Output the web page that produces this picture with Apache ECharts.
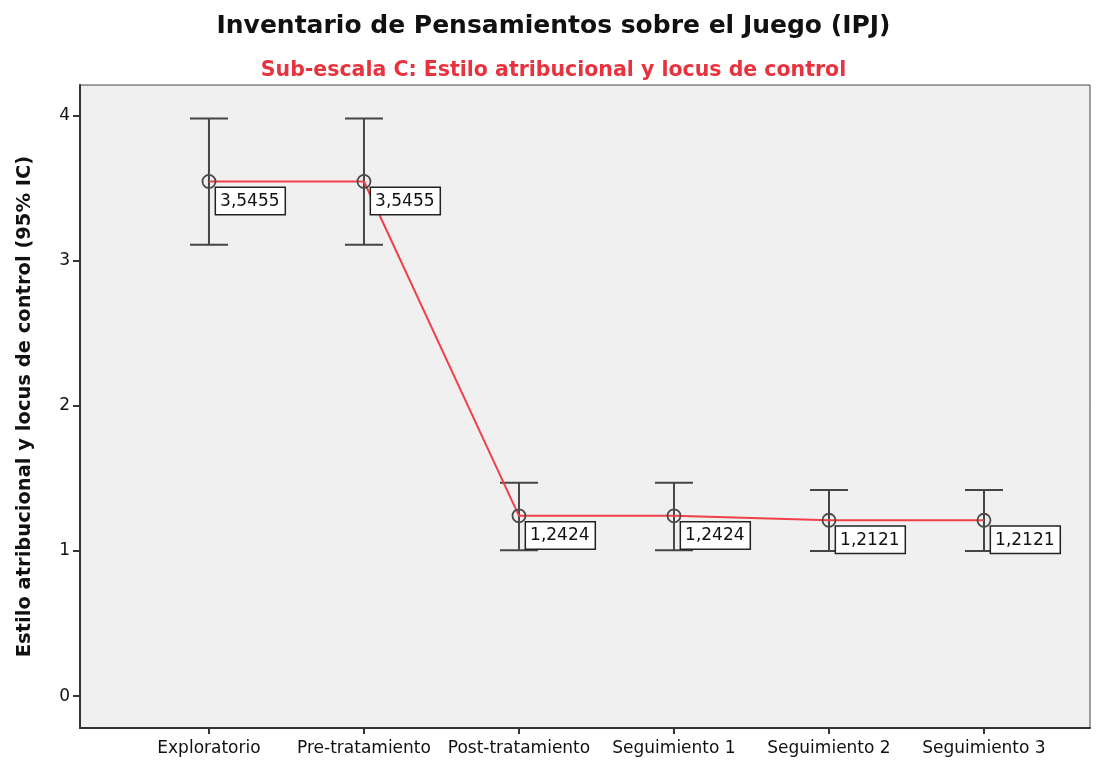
<!DOCTYPE html>
<html>
<head>
<meta charset="utf-8">
<script src="https://cdn.jsdelivr.net/npm/echarts@6/dist/echarts.min.js"></script>
<style>
  html, body { margin: 0; padding: 0; background: #fff; }
  #chart { width: 1107px; height: 760px; }
</style>
</head>
<body>
<div id="chart"></div>
<script>
// data
const categories = ['Exploratorio', 'Pre-tratamiento', 'Post-tratamiento', 'Seguimiento 1', 'Seguimiento 2', 'Seguimiento 3']
const means = [3.5455, 3.5455, 1.2424, 1.2424, 1.2121, 1.2121]
const ciLower = [3.11, 3.11, 1.005, 1.005, 1.0, 1.0]
const ciUpper = [3.98, 3.98, 1.47, 1.47, 1.42, 1.42]
const yTicks = [0, 1, 2, 3, 4]

const chart = echarts.init(document.getElementById('chart'))

const font = '"DejaVu Sans", Arial, sans-serif'

const option = {
  backgroundColor: '#ffffff',
  title: [
    {
      text: 'Inventario de Pensamientos sobre el Juego (IPJ)',
      left: 'center',
      top: 9,
      textStyle: { fontFamily: font, fontSize: 25, fontWeight: 'bold', color: '#111' }
    },
    {
      text: 'Sub-escala C: Estilo atribucional y locus de control',
      left: 'center',
      top: 55,
      textStyle: { fontFamily: font, fontSize: 20.5, fontWeight: 'bold', color: '#e8333f' }
    }
  ],
  grid: {
    left: 80, right: 17, top: 85, bottom: 32,
    show: true,
    backgroundColor: '#f0f0f0',
    borderColor: '#444',
    borderWidth: 1
  },
  xAxis: {
    type: 'value',
    min: -0.832,
    max: 5.684,
    splitLine: { show: false },
    axisLine: { show: true, onZero: false, lineStyle: { color: '#333', width: 2 } },
    axisTick: { show: true, customValues: [0, 1, 2, 3, 4, 5], length: 6, lineStyle: { color: '#333', width: 2 } },
    axisLabel: {
      customValues: [0, 1, 2, 3, 4, 5],
      formatter: v => categories[Math.round(v)] || '',
      fontFamily: font, fontSize: 17, color: '#111', margin: 12
    }
  },
  yAxis: {
    type: 'value',
    min: -0.219,
    max: 4.21,
    name: 'Estilo atribucional y locus de control (95% IC)',
    nameLocation: 'middle',
    nameGap: 45,
    nameTextStyle: { fontFamily: font, fontSize: 19.5, fontWeight: 'bold', color: '#111' },
    splitLine: { show: false },
    axisLine: { show: true, onZero: false, lineStyle: { color: '#333', width: 2 } },
    axisTick: { show: true, customValues: yTicks, length: 7, lineStyle: { color: '#333', width: 2 } },
    axisLabel: { customValues: yTicks, fontFamily: font, fontSize: 17, color: '#111', margin: 10 }
  },
  series: [
    {
      type: 'custom',
      name: 'IC',
      data: categories.map((c, i) => [i, ciLower[i], ciUpper[i]]),
      z: 2,
      renderItem: (params, api) => {
        const lo = api.coord([api.value(0), api.value(1)])
        const hi = api.coord([api.value(0), api.value(2)])
        const w = 19
        const style = { stroke: '#454545', lineWidth: 2 }
        return {
          type: 'group',
          children: [
            { type: 'line', shape: { x1: hi[0], y1: hi[1], x2: lo[0], y2: lo[1] }, style },
            { type: 'line', shape: { x1: hi[0] - w, y1: hi[1], x2: hi[0] + w, y2: hi[1] }, style },
            { type: 'line', shape: { x1: lo[0] - w, y1: lo[1], x2: lo[0] + w, y2: lo[1] }, style }
          ]
        }
      }
    },
    {
      type: 'line',
      name: 'Media',
      data: categories.map((c, i) => [i, means[i]]),
      z: 3,
      symbol: 'circle',
      symbolSize: 13,
      showSymbol: true,
      lineStyle: { color: '#f0414a', width: 2 },
      itemStyle: { color: 'rgba(0,0,0,0)', borderColor: '#4a4a4a', borderWidth: 1.8 },
      label: {
        show: true,
        position: [14.5, 14],
        formatter: p => p.value[1].toFixed(4).replace('.', ','),
        fontFamily: font,
        fontSize: 17,
        color: '#111',
        backgroundColor: '#ffffff',
        borderColor: '#222',
        borderWidth: 1.5,
        padding: [5, 5, 4, 4]
      },
      emphasis: { disabled: true },
      animation: false
    }
  ],
  animation: false
}

chart.setOption(option)
window.addEventListener('resize', () => chart.resize())
</script>
</body>
</html>
